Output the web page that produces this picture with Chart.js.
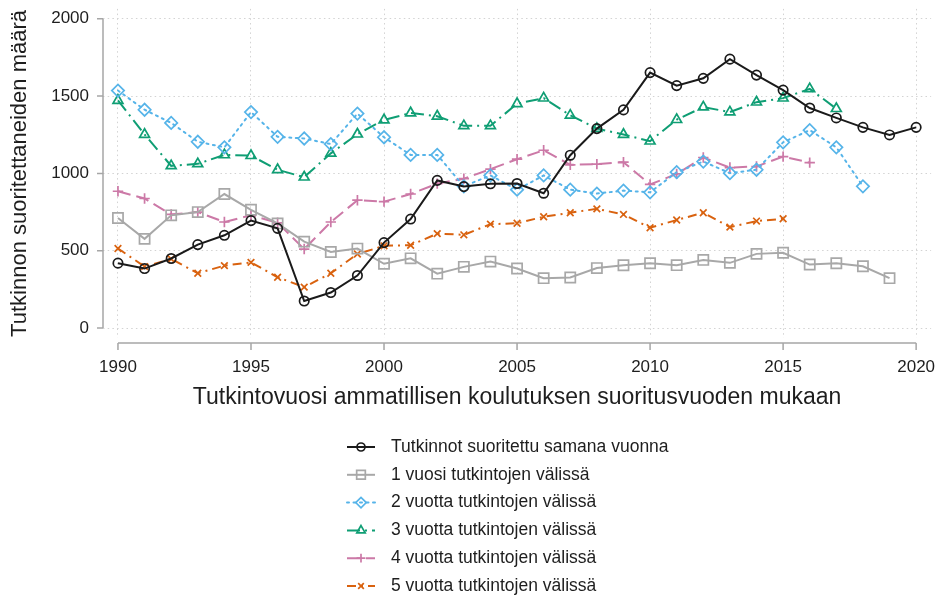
<!DOCTYPE html>
<html>
<head>
<meta charset="utf-8">
<script src="https://cdn.jsdelivr.net/npm/chart.js@4.4.1/dist/chart.umd.min.js"></script>
<style>
  html, body { margin: 0; padding: 0; background: #fff; }
  #wrap { width: 940px; height: 595px; }
</style>
</head>
<body>
<div id="wrap"><canvas id="chart" width="940" height="595"></canvas></div>
<script>
const years = [1990, 1991, 1992, 1993, 1994, 1995, 1996, 1997, 1998, 1999, 2000, 2001, 2002, 2003, 2004, 2005,
  2006, 2007, 2008, 2009, 2010, 2011, 2012, 2013, 2014, 2015, 2016, 2017, 2018, 2019, 2020];

const sameYear = [420, 385, 450, 540, 600, 695, 645, 175, 230, 340, 553, 705, 955, 915, 933, 935,
  872, 1118, 1290, 1411, 1652, 1568, 1615, 1739, 1636, 1539, 1423, 1359, 1298, 1249, 1298];
const gap1 = [712, 577, 729, 750, 867, 765, 677, 559, 492, 514, 416, 451, 352, 396, 430, 385,
  323, 327, 388, 406, 419, 407, 441, 422, 480, 487, 411, 419, 400, 323];
const gap2 = [1536, 1412, 1327, 1205, 1169, 1397, 1237, 1226, 1190, 1387, 1234, 1120, 1120, 917, 987, 895,
  987, 895, 870, 889, 878, 1008, 1077, 1002, 1024, 1201, 1280, 1169, 917];
const gap3 = [1472, 1252, 1049, 1062, 1120, 1115, 1024, 976, 1130, 1254, 1346, 1391, 1370, 1308, 1308, 1451,
  1487, 1376, 1290, 1252, 1209, 1348, 1429, 1397, 1461, 1487, 1547, 1419];
const gap4 = [885, 838, 735, 750, 686, 729, 681, 511, 686, 827, 818, 867, 934, 966, 1028, 1092,
  1150, 1056, 1060, 1073, 929, 997, 1103, 1038, 1045, 1109, 1070];
const gap5 = [515, 398, 447, 355, 404, 425, 329, 265, 355, 479, 532, 536, 611, 603, 672, 678,
  720, 746, 771, 735, 649, 699, 746, 653, 692, 707];

const seriesLabels = [
  "Tutkinnot suoritettu samana vuonna",
  "1 vuosi tutkintojen välissä",
  "2 vuotta tutkintojen välissä",
  "3 vuotta tutkintojen välissä",
  "4 vuotta tutkintojen välissä",
  "5 vuotta tutkintojen välissä",
];
const xTicks = [1990, 1995, 2000, 2005, 2010, 2015, 2020];
const yTicks = [0, 500, 1000, 1500, 2000];

const FONT = '"Liberation Sans", Arial, sans-serif';

const toPoints = (vals) => vals.map((v, i) => ({ x: years[i], y: v }));

const styles = [
  { color: "#1a1a1a", dash: [], pointStyle: "circle", r: 4.7 },
  { color: "#a8a8a8", dash: [], pointStyle: "rect", r: 7.2 },
  { color: "#56b4e9", dash: [2, 4.5], pointStyle: "rectRot", r: 6.2 },
  { color: "#0f9e74", dash: [13, 5, 2, 5], pointStyle: "triangle", r: 5.7 },
  { color: "#cc79a7", dash: [13, 6], pointStyle: "cross", r: 5.2 },
  { color: "#d9620f", dash: [9, 5, 2, 5], pointStyle: "crossRot", r: 4.7 },
];

const seriesData = [sameYear, gap1, gap2, gap3, gap4, gap5];

const datasets = seriesData.map((vals, i) => ({
  label: seriesLabels[i],
  data: toPoints(vals),
  borderColor: styles[i].color,
  borderWidth: 2,
  borderDash: styles[i].dash,
  borderCapStyle: i === 2 ? "round" : "butt",
  pointStyle: styles[i].pointStyle,
  pointRadius: styles[i].r,
  pointBorderWidth: 1.7,
  pointBorderColor: styles[i].color,
  pointBackgroundColor: "rgba(0,0,0,0)",
  tension: 0,
  fill: false,
}));

// Stata-like detached axis lines
const axisLines = {
  id: "axisLines",
  beforeDatasetsDraw(chart) {
    const { ctx, chartArea, scales: { x, y } } = chart;
    ctx.save();
    ctx.strokeStyle = "#a6a6a6";
    ctx.lineWidth = 1.5;
    ctx.beginPath();
    const left = chartArea.left;
    ctx.moveTo(left, y.getPixelForValue(yTicks[0]));
    ctx.lineTo(left, y.getPixelForValue(yTicks[yTicks.length - 1]));
    yTicks.forEach((v) => {
      const p = y.getPixelForValue(v);
      ctx.moveTo(left - 6, p);
      ctx.lineTo(left, p);
    });
    const base = chartArea.bottom + 5;
    ctx.moveTo(x.getPixelForValue(xTicks[0]), base);
    ctx.lineTo(x.getPixelForValue(xTicks[xTicks.length - 1]), base);
    xTicks.forEach((v) => {
      const p = x.getPixelForValue(v);
      ctx.moveTo(p, base);
      ctx.lineTo(p, base + 7);
    });
    ctx.stroke();
    ctx.restore();
  },
};

// one legend entry per row below the plot
const legendRows = {
  id: "legendRows",
  afterDraw(chart) {
    const ctx = chart.ctx;
    ctx.save();
    chart.data.datasets.forEach((ds, i) => {
      const cy = 447 + i * 27.8;
      ctx.strokeStyle = ds.borderColor;
      ctx.lineWidth = ds.borderWidth;
      ctx.lineCap = ds.borderCapStyle;
      ctx.setLineDash(ds.borderDash);
      ctx.beginPath();
      ctx.moveTo(347, cy);
      ctx.lineTo(375, cy);
      ctx.stroke();
      ctx.setLineDash([]);
      ctx.lineWidth = ds.pointBorderWidth;
      ctx.fillStyle = "rgba(0,0,0,0)";
      Chart.helpers.drawPoint(ctx, {
        pointStyle: ds.pointStyle,
        radius: ds.pointRadius * 0.85,
        borderWidth: ds.pointBorderWidth,
        rotation: 0,
      }, 361, cy);
      ctx.fillStyle = "#1e1e1e";
      ctx.font = "17.5px " + FONT;
      ctx.textBaseline = "middle";
      ctx.textAlign = "left";
      ctx.fillText(ds.label, 391, cy);
    });
    ctx.restore();
  },
};

try {
  const ctx = document.getElementById("chart");
  new Chart(ctx, {
    type: "line",
    data: { datasets: datasets },
    options: {
      responsive: false,
      animation: false,
      devicePixelRatio: 1,
      layout: { padding: { left: 0, right: 7, top: 6, bottom: 175 } },
      plugins: {
        legend: { display: false },
        tooltip: { enabled: false },
      },
      scales: {
        x: {
          type: "linear",
          min: 1989.4375,
          max: 2020.5625,
          afterBuildTicks: (scale) => {
            scale.ticks = xTicks.map((v) => ({ value: v }));
          },
          afterFit: (scale) => {
            scale.height = 82;
            scale.paddingLeft = 0;
            scale.paddingRight = 0;
          },
          border: { display: false, dash: [1.5, 3.2] },
          grid: { color: "#d3d3d3", lineWidth: 1, drawTicks: false },
          ticks: {
            autoSkip: false,
            maxRotation: 0,
            padding: 19,
            color: "#1e1e1e",
            font: { family: FONT, size: 17 },
            callback: (v) => String(v),
          },
          title: {
            display: true,
            text: "Tutkintovuosi ammatillisen koulutuksen suoritusvuoden mukaan",
            color: "#1e1e1e",
            font: { family: FONT, size: 23 },
            padding: { top: 0, bottom: 9 },
          },
        },
        y: {
          min: -64,
          max: 2064,
          afterBuildTicks: (scale) => {
            scale.ticks = yTicks.map((v) => ({ value: v }));
          },
          afterFit: (scale) => {
            scale.width = 103;
            scale.paddingTop = 0;
            scale.paddingBottom = 0;
          },
          border: { display: false, dash: [1.5, 3.2] },
          grid: { color: "#d3d3d3", lineWidth: 1, drawTicks: false },
          ticks: {
            padding: 14,
            color: "#1e1e1e",
            font: { family: FONT, size: 17 },
            callback: (v) => String(v),
          },
          title: {
            display: true,
            text: "Tutkinnon suoritettaneiden määrä",
            color: "#1e1e1e",
            font: { family: FONT, size: 22 },
            padding: { top: 7, bottom: 0 },
          },
        },
      },
    },
    plugins: [axisLines, legendRows],
  });
} catch (e) {
  console.error("Chart initialization error:", e);
}
</script>
</body>
</html>
